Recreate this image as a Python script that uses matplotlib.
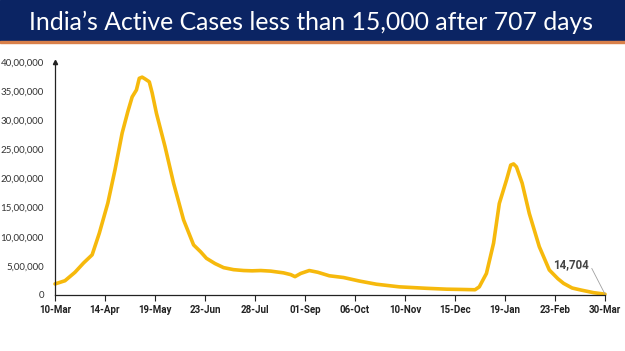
import numpy as np
import pandas as pd
import matplotlib
matplotlib.use("Agg")
import matplotlib.pyplot as plt
from matplotlib.ticker import FuncFormatter

# ---- data (active cases, lakh) ----
start = pd.Timestamp("2021-03-10")
day_offsets = [0, 7, 14, 20, 26, 31, 37, 42, 47, 51, 54, 57, 59, 61, 63, 66, 68,
               71, 77, 83, 90, 97, 102, 106, 112, 118, 125, 132, 138, 144, 151,
               160, 165, 168, 172, 178, 184, 192, 202, 213, 225, 241, 260, 274,
               285, 294, 297, 302, 307, 311, 316, 319, 321, 323, 327, 332, 339,
               346, 352, 356, 362, 368, 377, 385]
active_lakh = [1.9, 2.45, 3.9, 5.5, 6.9, 10.6, 15.8, 21.5, 27.8, 31.5, 34.0, 35.2,
               37.2, 37.4, 37.1, 36.6, 34.7, 31.2, 25.5, 19.2, 12.9, 8.6, 7.4, 6.3,
               5.4, 4.7, 4.35, 4.2, 4.15, 4.2, 4.1, 3.8, 3.5, 3.15, 3.7, 4.2, 3.9,
               3.3, 3.0, 2.4, 1.85, 1.4, 1.15, 1.0, 0.95, 0.9, 1.4, 3.7, 8.9, 15.7,
               19.7, 22.3, 22.5, 22.0, 19.2, 14.0, 8.3, 4.3, 2.8, 2.0, 1.2, 0.86,
               0.4, 0.14704]

tick_dates = ["2021-03-10", "2021-04-14", "2021-05-19", "2021-06-23", "2021-07-28",
              "2021-09-01", "2021-10-06", "2021-11-10", "2021-12-15", "2022-01-19",
              "2022-02-23", "2022-03-30"]
tick_labels = ["10-Mar", "14-Apr", "19-May", "23-Jun", "28-Jul", "01-Sep",
               "06-Oct", "10-Nov", "15-Dec", "19-Jan", "23-Feb", "30-Mar"]
y_ticks = [0, 500000, 1000000, 1500000, 2000000, 2500000, 3000000, 3500000, 4000000]
last_label = "14,704"
title = "India\u2019s Active Cases less than 15,000 after 707 days"

dates = start + pd.to_timedelta(day_offsets, unit="D")
values = np.array(active_lakh) * 1e5


def indian_fmt(v, _pos=None):
    # 3500000 -> 35,00,000
    v = int(round(v))
    if v == 0:
        return "0"
    s = str(v)
    head, tail = s[:-3], s[-3:]
    parts = []
    while len(head) > 2:
        parts.insert(0, head[-2:])
        head = head[:-2]
    if head:
        parts.insert(0, head)
    return ",".join(parts + [tail])


fig = plt.figure(figsize=(6.25, 3.51), dpi=100)

# title banner
fig.patches.append(plt.Rectangle((0, 1 - 41/351), 1, 41/351, transform=fig.transFigure,
                                 color="#0b2463", zorder=0))
fig.patches.append(plt.Rectangle((0, 1 - 43/351), 1, 2/351, transform=fig.transFigure,
                                 color="#d9804a", zorder=0))
fig.text(0.4975, 1 - 22/351, title, color="white", fontsize=17.8, family="Lato",
         ha="center", va="center")

ax = fig.add_axes([55/625, 1 - 295/351, 550/625, 233/351])
ax.plot(dates, values, color="#f6b90c", lw=2.6, solid_joinstyle="round",
        solid_capstyle="round", clip_on=False)

ax.set_xlim(pd.Timestamp(tick_dates[0]), pd.Timestamp(tick_dates[-1]))
ax.set_ylim(0, 4000000)
ax.set_xticks(pd.to_datetime(tick_dates))
ax.set_xticklabels(tick_labels, fontsize=7, fontweight="bold", color="#222222",
                   family="Roboto")
ax.set_yticks(y_ticks)
ax.yaxis.set_major_formatter(FuncFormatter(indian_fmt))
for lab in ax.get_yticklabels():
    lab.set_family("Lato")
ax.tick_params(axis="y", length=0, pad=8, labelsize=7, labelcolor="#333333")
ax.tick_params(axis="x", length=4, width=0.8, pad=3, color="#222222")

for side in ["top", "right"]:
    ax.spines[side].set_visible(False)
for side in ["left", "bottom"]:
    ax.spines[side].set_color("#222222")
    ax.spines[side].set_linewidth(0.9)
ax.plot([0], [1.0], marker="^", ms=3, color="#222222", transform=ax.transAxes,
        clip_on=False)

ax.annotate(last_label, xy=(dates[-1], values[-1]), xytext=(-12, 21),
            textcoords="offset points", ha="right", va="center",
            fontsize=8.3, fontweight="bold", color="#454545", family="Roboto",
            arrowprops=dict(arrowstyle="-", color="#a0a0a0", lw=0.6,
                            relpos=(1.0, 0.75), shrinkA=1, shrinkB=0))

fig.savefig("out.png", dpi=100)
